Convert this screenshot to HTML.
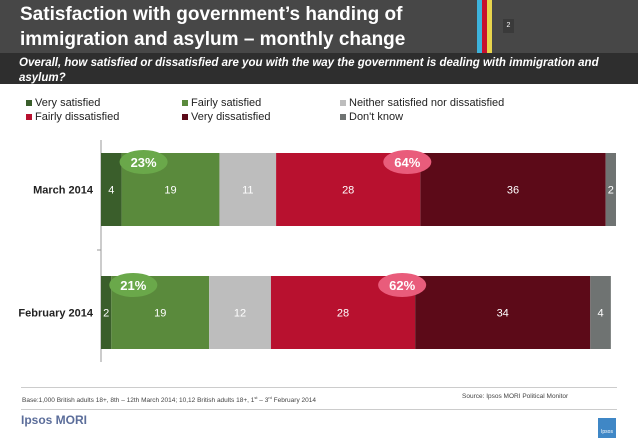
<!DOCTYPE html>
<html><head><meta charset="utf-8">
<style>
body{margin:0;width:638px;height:442px;background:#fff;font-family:"Liberation Sans",Arial,sans-serif;position:relative;overflow:hidden}
.abs{position:absolute}
</style></head><body>
<div class="abs" style="left:0;top:0;width:638px;height:53px;background:#474747"></div>
<div class="abs" style="left:0;top:53px;width:638px;height:31px;background:#2e2e2e"></div>
<div class="abs" style="left:477px;top:0;width:5px;height:53px;background:#3db3dc"></div>
<div class="abs" style="left:482px;top:0;width:5px;height:53px;background:#c8102e"></div>
<div class="abs" style="left:487px;top:0;width:5px;height:53px;background:#e8d44d"></div>
<div class="abs" style="left:503px;top:19px;width:11px;height:14px;background:#3a3a3a;color:#fff;font-size:7px;text-align:center;line-height:14px">2</div>
<div class="abs" style="left:20px;top:2px;color:#fff;font-weight:bold;font-size:19px;line-height:25px;width:470px">Satisfaction with government’s handing of immigration and asylum – monthly change</div>
<div class="abs" style="left:19px;top:56px;color:#fff;font-weight:bold;font-style:italic;font-size:11.5px;line-height:15px;width:600px">Overall, how satisfied or dissatisfied are you with the way the government is dealing with immigration and asylum?</div>
<div class="abs" style="left:0;top:0;font-size:11px;color:#222" id="legend"></div>
<svg class="abs" style="left:0;top:0" width="638" height="442" id="chart"></svg>
<div class="abs" style="left:21px;top:387px;width:596px;height:1px;background:#ccc"></div>
<div class="abs" style="left:22px;top:395px;font-size:6.5px;color:#444">Base:1,000 British adults 18+, 8th – 12th March 2014; 10,12 British adults 18+, 1<sup style="font-size:4px">st</sup> – 3<sup style="font-size:4px">rd</sup> February 2014</div>
<div class="abs" style="left:462px;top:393px;font-size:6.5px;color:#444">Source: Ipsos MORI Political Monitor</div>
<div class="abs" style="left:21px;top:409px;width:596px;height:1px;background:#ccc"></div>
<div class="abs" style="left:21px;top:413px;font-size:12px;font-weight:bold;color:#5b6d9a">Ipsos MORI</div>
<div class="abs" style="left:598px;top:418px;width:18px;height:20px;background:#3f87c6;color:#fff;font-size:5px;text-align:center;line-height:28px">Ipsos</div>
<script>
const categories=["March 2014","February 2014"];
const seriesNames=["Very satisfied","Fairly satisfied","Neither satisfied nor dissatisfied","Fairly dissatisfied","Very dissatisfied","Don't know"];
const verySatisfied=[4,2];
const fairlySatisfied=[19,19];
const neither=[11,12];
const fairlyDissatisfied=[28,28];
const veryDissatisfied=[36,34];
const dontKnow=[2,4];
const totalSatisfied=[23,21];
const totalDissatisfied=[64,62];
const colors=["#3a5e2b","#5a8a3c","#bdbdbd","#b8112f","#5c0a18","#6f7372"];
const series=[verySatisfied,fairlySatisfied,neither,fairlyDissatisfied,veryDissatisfied,dontKnow];
const NS="http://www.w3.org/2000/svg";
const svg=document.getElementById('chart');
const x0=101,pxPer=5.15;
const xs=v=>x0+v*pxPer;
const barTop=[153,276],barH=73;
function mk(t,a){const e=document.createElementNS(NS,t);for(const k in a)e.setAttribute(k,a[k]);svg.appendChild(e);return e;}
const leg=document.getElementById('legend');
const lx=[26,182,340],ly=[97,111];
seriesNames.forEach((n,i)=>{const d=document.createElement('div');


d.style.cssText=`position:absolute;left:${lx[i%3]}px;top:${ly[Math.floor(i/3)]}px;white-space:nowrap`;
d.innerHTML=`<span style="display:inline-block;width:6px;height:6px;background:${colors[i]};margin-right:3px"></span>${n}`;leg.appendChild(d);});
const ax=mk('line',{x1:x0,y1:140,x2:x0,y2:362,stroke:'#999','stroke-width':1});


const tk=mk('line',{x1:x0-4,y1:250,x2:x0,y2:250,stroke:'#999'});


categories.forEach((c,ci)=>{
 const y=barTop[ci];let cum=0;
 const lab=mk('text',{x:x0-8,y:y+barH/2+4,'text-anchor':'end','font-size':11,'font-weight':'bold',fill:'#222'});
 lab.textContent=c;
 
 
 series.forEach((s,si)=>{
  const v=s[ci];
  const r=mk('rect',{x:xs(cum),y:y,width:v*pxPer,height:barH,fill:colors[si]});
  
  
  const t=mk('text',{x:xs(cum+v/2),y:y+barH/2+4,'text-anchor':'middle','font-size':11,fill:'#fff'});
  t.textContent=v;
  
  
  cum+=v;
 });
 const gb=[[xs(verySatisfied[ci])+22,totalSatisfied[ci],'#6aa84a'],[xs(verySatisfied[ci]+fairlySatisfied[ci]+neither[ci]+fairlyDissatisfied[ci])-13,totalDissatisfied[ci],'#e95c7b']];
 gb.forEach(([cx,v,col])=>{
  const e=mk('ellipse',{cx:cx,cy:y+9,rx:24,ry:12,fill:col});
  
  
  const t=mk('text',{x:cx,y:y+14,'text-anchor':'middle','font-size':13,'font-weight':'bold',fill:'#fff'});
  t.textContent=v+'%';
  
  
 });
});
</script>
</body></html>
